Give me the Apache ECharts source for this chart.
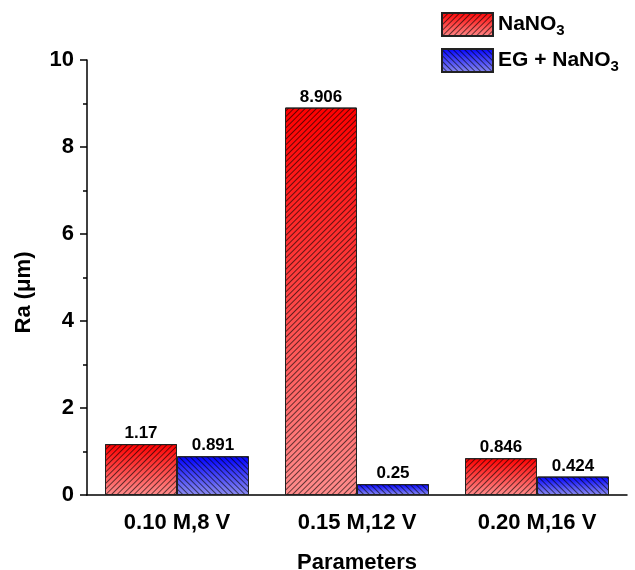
<!DOCTYPE html>
<html>
<head>
<meta charset="utf-8">
<script src="https://cdn.jsdelivr.net/npm/echarts@6/dist/echarts.min.js"></script>
<style>
  html, body { margin: 0; padding: 0; background: #fff; }
  #chart { width: 635px; height: 570px; }
</style>
</head>
<body>
<div id="chart"></div>
<script>
// data
const categories = ['0.10 M,8 V', '0.15 M,12 V', '0.20 M,16 V']
const nano3 = [1.17, 8.906, 0.846]
const egNano3 = [0.891, 0.25, 0.424]
const yTicks = [0, 2, 4, 6, 8, 10]

const font = 'Liberation Sans, Arial, sans-serif'

function grad(top, bottom) {
    return new echarts.graphic.LinearGradient(0, 0, 0, 1, [
        { offset: 0, color: top },
        { offset: 1, color: bottom }
    ])
}

// diagonal hatching drawn over the gradient
function hatch(rot) {
    return {
        symbol: 'rect',
        symbolSize: 1,
        dashArrayX: [1, 0],
        dashArrayY: [1, 3],
        rotation: rot,
        color: 'rgba(0,0,0,0.6)'
    }
}

const chart = echarts.init(document.getElementById('chart'))

const option = {
    animation: false,
    textStyle: { fontFamily: font },
    grid: { left: 87, right: 8, top: 60, bottom: 75, containLabel: false, outerBoundsMode: 'none' },
    legend: {
        orient: 'vertical',
        left: 436,
        top: 7,
        icon: 'rect',
        itemWidth: 51,
        itemHeight: 23,
        itemGap: 10,
        textStyle: {
            fontFamily: font, fontSize: 21, fontWeight: 'bold', color: '#000',
            rich: {
                t: { fontFamily: font, fontSize: 21, fontWeight: 'bold', color: '#000' },
                sub: { fontFamily: font, fontSize: 15, fontWeight: 'bold', color: '#000', verticalAlign: 'bottom', padding: [12, 0, 0, 0] }
            }
        },
        formatter: name => '{t|' + name.replace('NO3', 'NO') + '}{sub|3}',
        data: ['NaNO3', 'EG + NaNO3']
    },
    xAxis: [{
        type: 'category',
        data: categories,
        name: 'Parameters',
        nameLocation: 'middle',
        nameGap: 57,
        nameTextStyle: { fontFamily: font, fontSize: 22, fontWeight: 'bold', color: '#000' },
        axisLine: { lineStyle: { color: '#000', width: 1.5 } },
        axisTick: { alignWithLabel: true, length: 7, lineStyle: { color: '#000', width: 1.5 } },
        axisLabel: { margin: 17, fontFamily: font, fontSize: 22, fontWeight: 'bold', color: '#000' }
    }, {
        type: 'category',
        data: categories,
        position: 'bottom',
        axisLine: { show: false },
        axisTick: { length: 4, lineStyle: { color: '#000', width: 1.5 } },
        axisLabel: { show: false }
    }],
    yAxis: {
        type: 'value',
        min: 0,
        max: 10,
        interval: 2,
        name: 'Ra (μm)',
        nameLocation: 'middle',
        nameGap: 52,
        nameTextStyle: { fontFamily: font, fontSize: 22, fontWeight: 'bold', color: '#000', padding: [0, 30, 0, 0] },
        axisLine: { show: true, lineStyle: { color: '#000', width: 1.5 } },
        axisTick: { show: true, length: 7, lineStyle: { color: '#000', width: 1.5 } },
        minorTick: { show: true, splitNumber: 2, length: 4, lineStyle: { color: '#000', width: 1.5 } },
        splitLine: { show: false },
        axisLabel: {
            margin: 13, fontFamily: font, fontSize: 22, fontWeight: 'bold', color: '#000',
            formatter: v => yTicks.includes(v) ? String(v) : ''
        }
    },
    series: [{
        name: 'NaNO3',
        type: 'bar',
        data: nano3,
        barGap: '0%',
        barCategoryGap: '20%',
        itemStyle: {
            color: grad('#ff0000', '#ff8c8c'),
            borderColor: '#222',
            borderWidth: 1,
            decal: hatch(-Math.PI / 4)
        },
        label: {
            show: true, position: 'top', distance: 2,
            fontFamily: font, fontSize: 17, fontWeight: 'bold', color: '#000'
        }
    }, {
        name: 'EG + NaNO3',
        type: 'bar',
        data: egNano3,
        barGap: '0%',
        barCategoryGap: '20%',
        itemStyle: {
            color: grad('#0000ff', '#8c8cf0'),
            borderColor: '#222',
            borderWidth: 1,
            decal: hatch(Math.PI / 4)
        },
        label: {
            show: true, position: 'top', distance: 2,
            fontFamily: font, fontSize: 17, fontWeight: 'bold', color: '#000'
        }
    }]
}

chart.setOption(option)
</script>
</body>
</html>
